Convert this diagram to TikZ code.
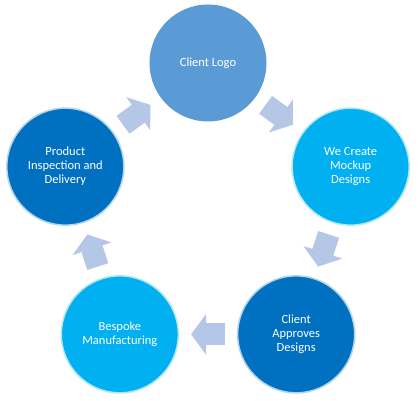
\documentclass[tikz,border=0pt]{standalone}
\usepackage{fontspec}
\setmainfont{Carlito}
\usetikzlibrary{arrows.meta,positioning,calc}
\definecolor{softblue}{HTML}{5B9BD5}
\definecolor{skyblue}{HTML}{00B0F0}
\definecolor{deepblue}{HTML}{0070C0}
\definecolor{paleblue}{HTML}{B4C7E7}

\tikzset{
  stage/.style={circle, fill=#1, draw=#1!30, line width=1.5pt, minimum size=117pt,
    inner sep=0pt, text=white, align=center, font=\fontsize{12.5}{14}\selectfont},
  flow/.style={paleblue, line width=22pt, -{Triangle[length=15pt,width=40pt]},
    shorten <=12pt, shorten >=12pt}
}

\begin{document}
\begin{tikzpicture}[x=1pt, y=1pt]
  \fill[white] (0,0) rectangle (418,401);
  \useasboundingbox (0,0) rectangle (418,401);
  \coordinate (hub) at (208,188);
  % the five stages, clockwise from the top
  \node[stage=softblue, draw=none] (logo) at ($(hub)+(90:150)$) {Client Logo};
  \node[stage=skyblue] (mockup) at ($(hub)+(18:150)$) {We Create\\Mockup\\Designs};
  \node[stage=deepblue] (approve) at ($(hub)+(-54:150)$) {Client\\Approves\\Designs};
  \node[stage=skyblue] (bespoke) at ($(hub)+(-126:150)$) {Bespoke\\Manufacturing};
  \node[stage=deepblue] (inspect) at ($(hub)+(162:150)$) {Product\\Inspection and\\Delivery};
  \foreach \a/\b in {logo/mockup, mockup/approve, approve/bespoke, bespoke/inspect, inspect/logo}
    {\draw[flow] (\a) -- (\b);}
\end{tikzpicture}
\end{document}
